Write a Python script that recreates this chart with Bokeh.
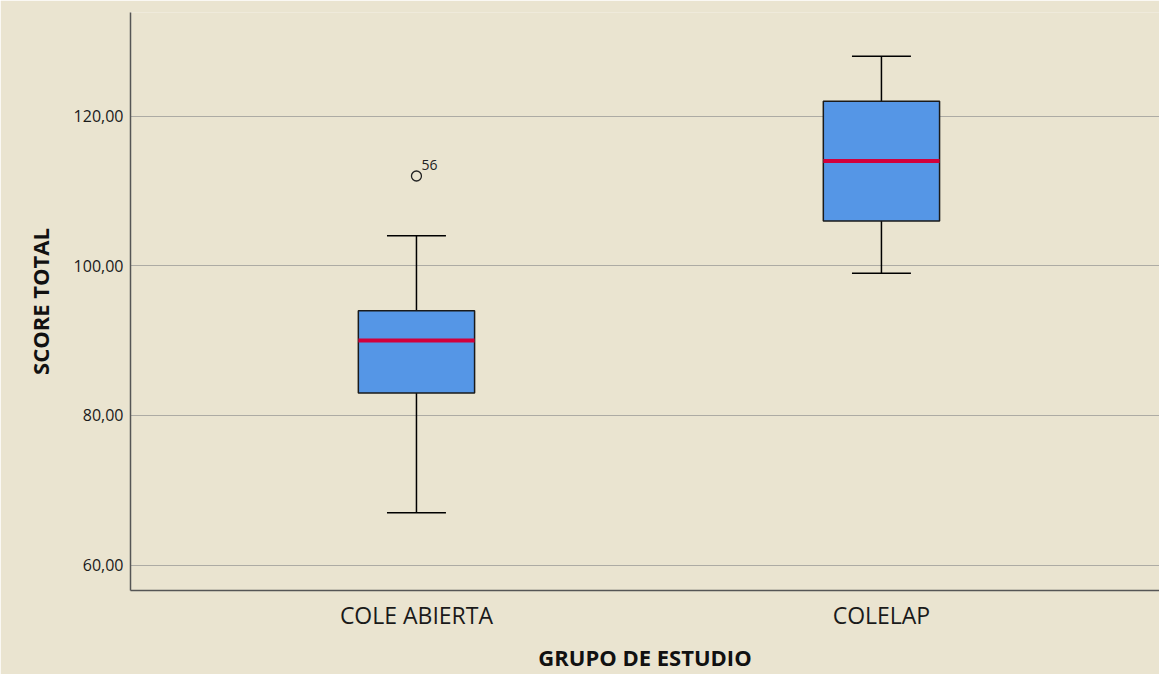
from bokeh.plotting import figure
from bokeh.models import FixedTicker, Range1d, ColumnDataSource
from bokeh.embed import file_html
from bokeh.resources import INLINE
from bokeh.core.properties import value

groups = ["COLE ABIERTA", "COLELAP"]
lower = [67, 99]
q1 = [83, 106]
median = [90, 114]
q3 = [94, 122]
upper = [104, 128]
outlier_group = [1]
outlier_value = [112]
outlier_label = ["56"]
y_ticks = [60, 80, 100, 120]
y_tick_labels = ["60,00", "80,00", "100,00", "120,00"]

BG = "#EAE4D0"
FONT = "Open Sans"

xs = [i + 1 for i in range(len(groups))]
box_w = 0.25
cap_hw = 0.0634

src = ColumnDataSource(dict(
    x=xs, lower=lower, q1=q1, median=median, q3=q3, upper=upper,
    cl=[x - cap_hw for x in xs], cr=[x + cap_hw for x in xs],
    ml=[x - box_w / 2 for x in xs], mr=[x + box_w / 2 for x in xs],
))

p = figure(width=1159, height=674, output_backend="svg", toolbar_location=None,
           x_range=Range1d(0.385, 2.598), y_range=Range1d(56.6, 133.85),
           min_border_left=130, min_border_right=0, min_border_top=12, min_border_bottom=78)

p.background_fill_color = BG
p.border_fill_color = BG
p.outline_line_color = None

# whiskers
p.segment(x0="x", y0="q3", x1="x", y1="upper", source=src, line_color="black", line_width=1.5)
p.segment(x0="x", y0="lower", x1="x", y1="q1", source=src, line_color="black", line_width=1.5)
p.segment(x0="cl", y0="upper", x1="cr", y1="upper", source=src, line_color="black", line_width=1.5)
p.segment(x0="cl", y0="lower", x1="cr", y1="lower", source=src, line_color="black", line_width=1.5)
# boxes
p.vbar(x="x", width=box_w, bottom="q1", top="q3", source=src,
       fill_color="#5596E6", line_color="#1a1a1a", line_width=1.5)
# medians
p.segment(x0="ml", y0="median", x1="mr", y1="median", source=src, line_color="#D2003C", line_width=4)
# outliers
p.scatter(outlier_group, outlier_value, marker="circle", size=10, fill_color=None,
          line_color="#222222", line_width=1.3)
p.text(outlier_group, outlier_value, text=outlier_label,
       x_offset=5, y_offset=-6, text_font=value(FONT), text_font_size="14px",
       text_color="#222222", text_baseline="bottom", text_align="left")

# axes
p.xaxis.ticker = FixedTicker(ticks=xs)
p.xaxis.major_label_overrides = {x: g for x, g in zip(xs, groups)}
p.yaxis.ticker = FixedTicker(ticks=y_ticks)
p.yaxis.major_label_overrides = {t: l for t, l in zip(y_ticks, y_tick_labels)}

for ax in (p.xaxis[0], p.yaxis[0]):
    ax.major_tick_line_color = None
    ax.minor_tick_line_color = None
    ax.axis_line_color = "#555555"
    ax.axis_line_width = 1.5
    ax.major_label_text_font = FONT
    ax.major_label_text_color = "#1a1a1a"
    ax.axis_label_text_font = FONT
    ax.axis_label_text_font_style = "bold"
    ax.axis_label_text_color = "#111111"
    ax.axis_label_text_font_size = "22px"

p.xaxis.axis_label = "GRUPO DE ESTUDIO"
p.yaxis.axis_label = "SCORE TOTAL"
p.xaxis.major_label_text_font_size = "23px"
p.yaxis.major_label_text_font_size = "16px"
p.xaxis.major_label_standoff = 2
p.yaxis.major_label_standoff = 1
p.xaxis.axis_label_standoff = 8
p.yaxis.axis_label_standoff = 16

p.xgrid.grid_line_color = None
p.ygrid.ticker = FixedTicker(ticks=y_ticks)
p.ygrid.grid_line_color = "#ADABA4"
p.ygrid.grid_line_width = 1.2

open("out.html", "w").write(file_html(p, INLINE))
